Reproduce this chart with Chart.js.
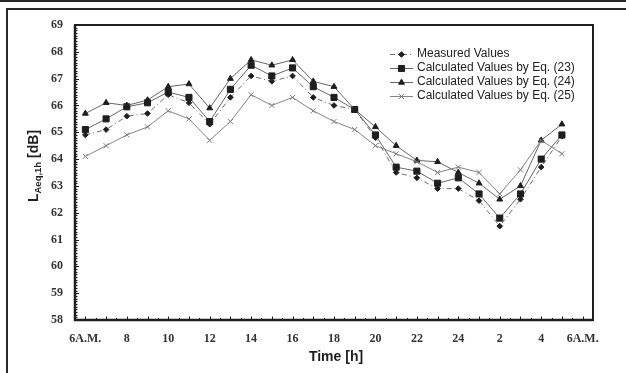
<!DOCTYPE html>
<html>
<head>
<meta charset="utf-8">
<script src="https://cdn.jsdelivr.net/npm/chart.js@4.4.1/dist/chart.umd.min.js"></script>
<style>
  html, body { margin: 0; padding: 0; background: #fff; }
  #wrap { width: 626px; height: 373px; position: relative; }
</style>
</head>
<body>
<div id="wrap"><canvas id="chart"></canvas></div>
<script>
/* ===== Data (hours from 6 A.M.) ===== */
const hours = [0, 1, 2, 3, 4, 5, 6, 7, 8, 9, 10, 11, 12, 13, 14, 15, 16, 17, 18, 19, 20, 21, 22, 23];
const measured = [64.9, 65.1, 65.6, 65.7, 66.4, 66.1, 65.3, 66.3, 67.1, 66.9, 67.1, 66.3, 66.0, 65.85, 64.8, 63.5, 63.3, 62.9, 62.9, 62.45, 61.5, 62.5, 63.7, 64.85];
const eq23 = [65.1, 65.5, 65.95, 66.1, 66.5, 66.3, 65.4, 66.6, 67.5, 67.1, 67.4, 66.7, 66.3, 65.85, 64.9, 63.7, 63.55, 63.1, 63.3, 62.7, 61.8, 62.7, 64.0, 64.9];
const eq24 = [65.7, 66.1, 66.0, 66.2, 66.7, 66.8, 65.9, 67.0, 67.7, 67.5, 67.7, 66.9, 66.7, 65.85, 65.2, 64.5, 63.95, 63.9, 63.5, 63.1, 62.5, 63.0, 64.7, 65.3];
const eq25 = [64.1, 64.5, 64.9, 65.2, 65.8, 65.5, 64.7, 65.4, 66.4, 66.0, 66.3, 65.8, 65.4, 65.1, 64.5, 64.2, 63.9, 63.5, 63.7, 63.5, 62.7, 63.6, 64.7, 64.2];

const xTickPos = [0, 2, 4, 6, 8, 10, 12, 14, 16, 18, 20, 22, 24];
const xTickLabels = ['6A.M.', '8', '10', '12', '14', '16', '18', '20', '22', '24', '2', '4', '6A.M.'];
const seriesNames = ['Measured Values', 'Calculated Values by Eq. (23)', 'Calculated Values by Eq. (24)', 'Calculated Values by Eq. (25)'];

const INK = '#1e1e1e';
const LINE = '#666';

function pts(arr) { return arr.map((v, i) => ({ x: hours[i], y: v })); }

const styles = [
  { pointStyle: 'rectRot', radius: 2.8, dash: [5, 3, 1, 3], line: '#6c6c6c', mk: INK },
  { pointStyle: 'rect', radius: 4.3, dash: [], line: LINE, mk: INK },
  { pointStyle: 'triangle', radius: 3.4, dash: [], line: LINE, mk: INK },
  { pointStyle: 'crossRot', radius: 3.6, dash: [], line: '#858585', mk: '#777' }
];

const datasets = [measured, eq23, eq24, eq25].map((arr, i) => ({
  label: seriesNames[i],
  data: pts(arr),
  borderColor: styles[i].line,
  borderWidth: 1,
  borderDash: styles[i].dash,
  backgroundColor: styles[i].mk,
  pointStyle: styles[i].pointStyle,
  pointRadius: styles[i].radius,
  pointBorderColor: styles[i].mk,
  pointBackgroundColor: styles[i].mk,
  pointBorderWidth: 1,
  showLine: true,
  tension: 0
}));
// draw order: crosses at back, measured on top
datasets.reverse();

/* ===== Frame, minor ticks, titles, legend ===== */
const decor = {
  id: 'decor',
  afterDraw(chart) {
    const { ctx, chartArea: a, scales: { x, y } } = chart;
    ctx.save();

    // outer page frame
    ctx.fillStyle = '#2a2a2a';
    ctx.fillRect(0, 0, 626, 2);
    ctx.fillRect(6, 8, 620, 2);
    ctx.fillRect(6, 8, 2, 365);

    // minor ticks on y (every 0.1)
    ctx.strokeStyle = INK;
    ctx.lineWidth = 1;
    ctx.beginPath();
    for (let k = 0; k <= 110; k++) {
      const py = Math.round(y.getPixelForValue(58 + k / 10)) + 0.5;
      const len = k % 10 === 0 ? 4 : 2.5;
      ctx.moveTo(a.left, py); ctx.lineTo(a.left + len, py);
    }
    // ticks on x (every half hour)
    for (let k = -1; k <= 49; k++) {
      const px = Math.round(x.getPixelForValue(k / 2)) + 0.5;
      const len = k % 2 === 0 ? 3.5 : 2;
      ctx.moveTo(px, a.bottom); ctx.lineTo(px, a.bottom - len);
    }
    ctx.stroke();

    // plot box
    ctx.lineWidth = 2;
    ctx.strokeStyle = INK;
    ctx.strokeRect(a.left, a.top, a.right - a.left, a.bottom - a.top);
    ctx.lineWidth = 2.5;
    ctx.beginPath();
    ctx.moveTo(a.left, a.top); ctx.lineTo(a.left, a.bottom); ctx.lineTo(a.right, a.bottom);
    ctx.stroke();

    // x title
    ctx.fillStyle = INK;
    ctx.font = 'bold 14px "Liberation Sans", Arial, sans-serif';
    ctx.textAlign = 'center';
    ctx.textBaseline = 'middle';
    ctx.fillText('Time [h]', 336, 357);

    // y title with subscript
    ctx.translate(34, 166);
    ctx.rotate(-Math.PI / 2);
    const fMain = 'bold 14px "Liberation Sans", Arial, sans-serif';
    const fSub = 'bold 9.5px "Liberation Sans", Arial, sans-serif';
    ctx.font = fMain; const wL = ctx.measureText('L').width; const wD = ctx.measureText(' [dB]').width;
    ctx.font = fSub; const wS = ctx.measureText('Aeq,1h').width;
    let cx = -(wL + wS + wD) / 2;
    ctx.textAlign = 'left';
    ctx.font = fMain; ctx.fillText('L', cx, 0); cx += wL;
    ctx.font = fSub; ctx.fillText('Aeq,1h', cx, 4); cx += wS;
    ctx.font = fMain; ctx.fillText(' [dB]', cx, 0);
    ctx.setTransform(1, 0, 0, 1, 0, 0);

    // legend
    const rows = [54, 68, 82, 96];
    ctx.font = '12px "Liberation Sans", Arial, sans-serif';
    ctx.textBaseline = 'middle';
    rows.forEach((ry, i) => {
      const s = styles[i];
      ctx.strokeStyle = s.line;
      ctx.lineWidth = 1;
      ctx.setLineDash(s.dash);
      ctx.beginPath(); ctx.moveTo(390, ry + 0.5); ctx.lineTo(413, ry + 0.5); ctx.stroke();
      ctx.setLineDash([]);
      ctx.fillStyle = s.mk; ctx.strokeStyle = s.mk;
      Chart.helpers.drawPoint(ctx, { pointStyle: s.pointStyle, radius: s.radius, borderWidth: 1 }, 401.5, ry + 0.5);
      ctx.fillStyle = '#222';
      ctx.fillText(seriesNames[i], 417, ry);
    });
    ctx.restore();
  }
};

new Chart(document.getElementById('chart'), {
  type: 'scatter',
  data: { datasets },
  options: {
    responsive: true,
    maintainAspectRatio: false,
    animation: false,
    layout: { padding: { left: 0, top: 25, right: 33, bottom: 0 } },
    plugins: { legend: { display: false }, tooltip: { enabled: false } },
    scales: {
      x: {
        type: 'linear',
        min: -0.5,
        max: 24.5,
        afterFit: s => { s.height = 53; },
        afterBuildTicks: s => { s.ticks = xTickPos.map(v => ({ value: v })); },
        grid: { display: false, drawTicks: false },
        border: { display: false },
        ticks: {
          padding: 12,
          maxRotation: 0,
          autoSkip: false,
          color: '#333',
          font: { family: '"Liberation Serif", "Times New Roman", serif', size: 12, weight: 'bold' },
          callback: v => xTickLabels[xTickPos.indexOf(v)]
        }
      },
      y: {
        min: 58,
        max: 69,
        afterFit: s => { s.width = 75; },
        grid: { display: false, drawTicks: false },
        border: { display: false },
        ticks: {
          stepSize: 1,
          padding: 12,
          color: '#333',
          font: { family: '"Liberation Serif", "Times New Roman", serif', size: 12, weight: 'bold' }
        }
      }
    }
  },
  plugins: [decor]
});
</script>
</body>
</html>
